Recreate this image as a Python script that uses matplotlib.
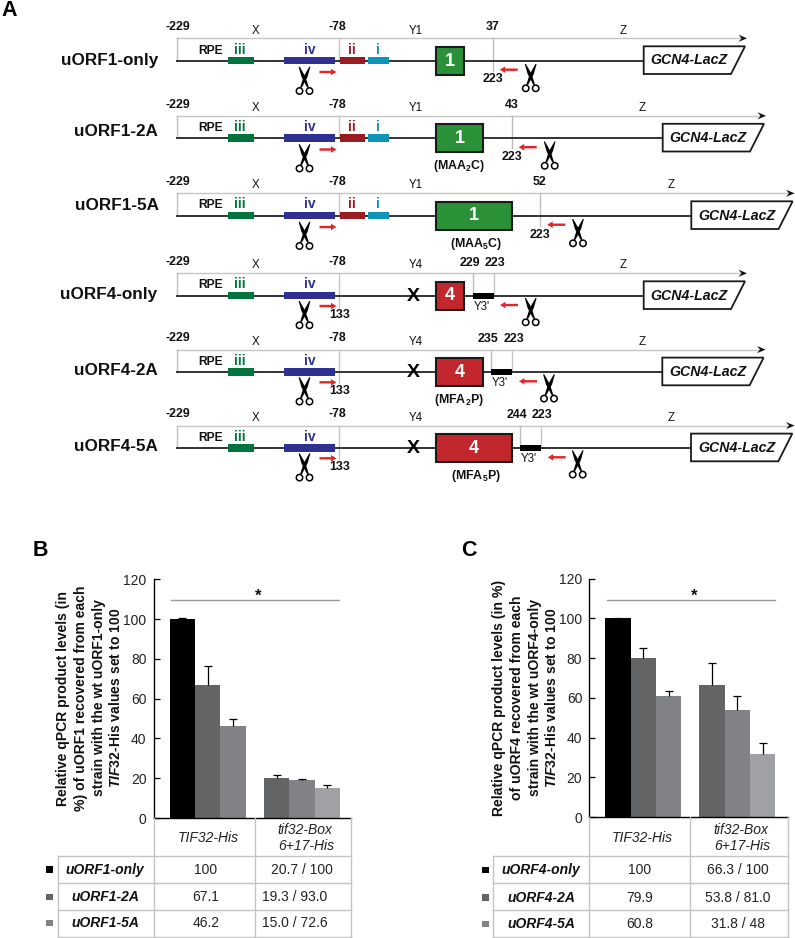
import matplotlib
matplotlib.use("Agg")
import matplotlib.pyplot as plt
from matplotlib.patches import Polygon, Rectangle, Circle

plt.rcParams['font.family'] = ['Liberation Sans', 'DejaVu Sans']
plt.rcParams['mathtext.fontset'] = 'custom'
plt.rcParams['mathtext.rm'] = 'Liberation Sans'
plt.rcParams['mathtext.it'] = 'Liberation Sans:italic'
plt.rcParams['mathtext.bf'] = 'Liberation Sans:bold'
plt.rcParams['mathtext.bfit'] = 'Liberation Sans:italic:bold'
plt.rcParams['mathtext.default'] = 'regular'

W, H = 795, 938

# --- DATA ---
row_names = ['uORF1-only', 'uORF1-2A', 'uORF1-5A', 'uORF4-only', 'uORF4-2A', 'uORF4-5A']
box_labels = ['1', '1', '1', '4', '4', '4']
box_notes = ['', r'(MAA$_{\mathbf{2}}$C)', r'(MAA$_{\mathbf{5}}$C)',
             '', r'(MFA$_{\mathbf{2}}$P)', r'(MFA$_{\mathbf{5}}$P)']
end_labels = ['37', '43', '52', '229', '235', '244']

b_bars_wt = [100, 67.1, 46.2]
b_errs_wt = [0.4, 9.3, 3.8]
b_bars_mut = [20.0, 19.3, 15.0]
b_errs_mut = [1.6, 0.3, 1.5]
b_rows = ['uORF1-only', 'uORF1-2A', 'uORF1-5A']
b_col1 = ['100', '67.1', '46.2']
b_col2 = ['20.7 / 100', '19.3 / 93.0', '15.0 / 72.6']
b_ylabel = ['Relative qPCR product levels (in',
            '%) of uORF1 recovered from each',
            'strain with the wt uORF1-only',
            r'$\mathbfit{TIF}$32-His values set to 100']

c_bars_wt = [100, 79.9, 60.8]
c_errs_wt = [0.4, 5.2, 2.8]
c_bars_mut = [66.3, 53.8, 31.8]
c_errs_mut = [11.4, 7.0, 5.3]
c_rows = ['uORF4-only', 'uORF4-2A', 'uORF4-5A']
c_col1 = ['100', '79.9', '60.8']
c_col2 = ['66.3 / 100', '53.8 / 81.0', '31.8 / 48']
c_ylabel = ['Relative qPCR product levels (in %)',
            'of uORF4 recovered from each',
            'strain with the wt uORF4-only',
            r'$\mathbfit{TIF}$32-His values set to 100']

yticks = [0, 20, 40, 60, 80, 100, 120]
wt_colors = ['#000000', '#636466', '#808285']
mut_colors = ['#636466', '#808285', '#a0a1a4']
legend_colors = ['#000000', '#636466', '#808285']

# --- LAYOUT OF PANEL A (pixels) ---
line_y = [61, 138.5, 216, 296, 372.3, 448.3]
name_y = [60, 132, 205, 295, 370.7, 446.7]
name_right = [158, 158, 159, 157, 158, 158]
box_right = [464.3, 483.3, 511.7, 464.3, 483.3, 511.7]
gcn_left = [643.7, 662.7, 691.3, 643.7, 662.3, 691.0]
arrow_end = [747, 766, 794.5, 747, 765.5, 794.5]
z_x = [623, 642, 671, 623, 642, 671]
end_x = [493, 511.7, 540, 473, 491.3, 520.3]
bar_end_x = [None, None, None, 493.7, 512, 541]
back_arrow_x = [517.7, 536.7, 565.2, 518, 537, 565.7]
scissors_x = [530.7, 549.7, 578, 530.7, 549, 577.7]
note_x = [0, 459.3, 476, 0, 459, 475.7]

GREEN = '#2a9139'
RED = '#c1272d'

fig = plt.figure(figsize=(W / 100, H / 100), dpi=100)
ov = fig.add_axes([0, 0, 1, 1], zorder=3)
ov.set_xlim(0, W)
ov.set_ylim(H, 0)
ov.axis('off')
ov.patch.set_alpha(0)


def put(x, y, s, size=8.9, weight='bold', style='normal', color='#111111', ha='center', **kw):
    ov.text(x, y, s, fontsize=size, fontweight=weight, fontstyle=style, color=color,
            ha=ha, va='center', **kw)


def red_arrow(x0, x1, y):
    ov.arrow(x0, y, x1 - x0, 0, width=2.4, head_width=6.5, head_length=5.5,
             length_includes_head=True, color='#e3242b', lw=0, zorder=4)


def scissors(cx, top):
    # two crossing blades and the finger rings
    for s in (-1, 1):
        blade = [(5.9, 0), (3.1, 10), (-2.6, 20.8), (-4.4, 20.8), (-0.9, 10), (4.8, 0)]
        ov.add_patch(Polygon([(cx + s * bx, top + by) for bx, by in blade],
                             closed=True, fc='black', ec='none', zorder=4))
        ov.add_patch(Circle((cx + s * 5.0, top + 24.3), 3.2, fc='white', ec='black', lw=1.1, zorder=4))


def draw_row(i):
    y = line_y[i]
    top = y - 22.7
    orf4 = i >= 3

    # primer span, gray
    ov.plot([176.5, arrow_end[i] - 4], [top, top], color='#c6c6c6', lw=1, zorder=1)
    ov.plot([176.5, 176.5], [top, y], color='#bdbdbd', lw=1, zorder=1)
    ov.plot([339, 339], [top, y + (11 if orf4 else 0)], color='#c6c6c6', lw=1, zorder=1)
    xe = arrow_end[i]
    ov.add_patch(Polygon([(xe, top), (xe - 8.5, top - 3.6), (xe - 5.5, top), (xe - 8.5, top + 3.6)],
                         closed=True, fc='#111111', ec='none', zorder=3))

    # main line
    ov.plot([176.5, gcn_left[i]], [y, y], color='#333333', lw=1.4, zorder=2)

    # top labels
    put(178, y - 34, '-229')
    put(337.5, y - 34, '-78')
    put(255.5, y - 30.5, 'X', size=8.3, weight='normal')
    put(415.5, y - 30.5, 'Y4' if orf4 else 'Y1', size=8.3, weight='normal')
    put(z_x[i], y - 30.5, 'Z', size=8.3, weight='normal')
    put(name_right[i], name_y[i], row_names[i], size=12.3, ha='right')

    # elements
    put(211, y - 10.5, 'RPE', size=8.7)
    ov.add_patch(Rectangle((228, y - 4), 25.5, 7.5, fc='#02733c', ec='none', zorder=3))
    put(240, y - 11.5, 'iii', size=10, color='#02733c')
    ov.add_patch(Rectangle((283.5, y - 4), 51.5, 7.5, fc='#2e3192', ec='none', zorder=3))
    put(310, y - 11.5, 'iv', size=10, color='#2e3192')
    if not orf4:
        ov.add_patch(Rectangle((339.5, y - 4), 25, 7.5, fc='#9b1c20', ec='none', zorder=3))
        put(352, y - 11.5, 'ii', size=10, color='#9b1c20')
        ov.add_patch(Rectangle((368, y - 4), 21, 7.5, fc='#0d94b8', ec='none', zorder=3))
        put(378, y - 11.5, 'i', size=10, color='#0d94b8')

    # forward primer + cut
    red_arrow(319.5, 336.5, y + 11 if not orf4 else y + 10)
    scissors(304.5, y + (5.7 if not orf4 else 5))
    if orf4:
        put(339.5, y + 19, '133')

    # uORF box
    ov.add_patch(Rectangle((435.7, y - 14), box_right[i] - 435.7, 27.7, fc=RED if orf4 else GREEN,
                           ec='#1a1a1a', lw=1.5, zorder=3))
    put((435.7 + box_right[i]) / 2, y, box_labels[i], size=13, color='white', zorder=5)
    if box_notes[i]:
        put(note_x[i], y + 27.5, box_notes[i], size=8.9)

    # right side primer end + reverse primer
    if orf4:
        put(413.3, y + 0.5, 'X', size=14, color='black', zorder=5)
        x0, x1 = end_x[i], bar_end_x[i]
        ov.plot([x0, x0], [top, y], color='#bdbdbd', lw=1, zorder=1)
        ov.plot([x1, x1], [top, y], color='#c6c6c6', lw=1, zorder=1)
        ov.add_patch(Rectangle((x0, y - 3), x1 - x0, 5.6, fc='black', ec='none', zorder=3))
        put(x0 - 3, y - 33.3, end_labels[i])
        put(x1 + 1.5, y - 33.3, '223')
        put((x0 + x1) / 2 - 1.5, y + 11, "Y3'", size=8.3, weight='normal')
        red_arrow(back_arrow_x[i], back_arrow_x[i] - 18, y + 9)
        scissors(scissors_x[i], y + 2)
    else:
        x0 = end_x[i]
        ov.plot([x0, x0], [top, y + 10], color='#bdbdbd', lw=1, zorder=1)
        put(x0, y - 34, end_labels[i])
        put(x0, y + 18.5, '223')
        red_arrow(back_arrow_x[i], back_arrow_x[i] - 18, y + 8.7)
        scissors(scissors_x[i], y + 3)

    # reporter
    gl = gcn_left[i]
    ov.add_patch(Polygon([(gl, y - 14.7), (gl + 101.3, y - 14.7), (gl + 87.3, y + 13), (gl, y + 13)],
                         closed=True, fc='white', ec='#1a1a1a', lw=1.3, zorder=3))
    put(gl + 45.5, y - 0.5, 'GCN4-LacZ', size=10.2, style='italic', color='#111111', zorder=5)


for i in range(6):
    draw_row(i)

put(1, 10, 'A', size=15.5, ha='left', color='black')
put(33, 550, 'B', size=15.5, ha='left', color='black')
put(461, 550, 'C', size=15.5, ha='left', color='black')


def draw_panel(box, wt, wt_err, mut, mut_err, sig, star_x, ylabel, lab_x, lab_y,
               tab, rows, col1, col2, pos):
    left, right, y0, y120, bar_w = box
    ax = fig.add_axes([left / W, 1 - y0 / H, (right - left) / W, (y0 - y120) / H], zorder=2)
    gap = 3.72
    xs1 = [0, 1, 2]
    xs2 = [gap, gap + 1, gap + 2]
    for xs, vals, errs, cols in ((xs1, wt, wt_err, wt_colors), (xs2, mut, mut_err, mut_colors)):
        ax.bar(xs, vals, width=1.0, color=cols, linewidth=0)
        eb = ax.errorbar(xs, vals, yerr=[[0] * 3, errs], fmt='none', ecolor='black', elinewidth=0.9,
                         capsize=2.6, capthick=0.9)
        eb[1][0].set_visible(False)  # only the upper cap
    x_first = pos['first']
    ax.set_xlim((left - x_first) / bar_w, (right - x_first) / bar_w)
    ax.set_ylim(0, 120)
    ax.set_yticks(yticks)
    ax.set_xticks([])
    ax.tick_params(axis='y', direction='in', length=4, width=0.9, labelsize=10,
                   labelcolor='#222222', pad=5)
    for s in ('top', 'right'):
        ax.spines[s].set_visible(False)
    for s in ('left', 'bottom'):
        ax.spines[s].set_linewidth(1.0)
    ax.patch.set_alpha(0)
    ax.plot(sig, [109.4, 109.4], color='#9a9a9a', lw=1, clip_on=False)
    ax.text(star_x, 111.4, '*', fontsize=12, fontweight='bold', ha='center', va='center', color='#111111')

    for j, line in enumerate(ylabel):
        put(lab_x[j], lab_y, line, size=10.1, weight='bold', rotation=90, rotation_mode='anchor')

    # table under the bars
    t_left, t_mid, t_split, t_right = tab['x']
    t_y = tab['y']
    g = '#c4c4c4'
    for yy in t_y[1:]:
        ov.plot([t_left, t_right], [yy, yy], color=g, lw=1)
    ov.plot([t_left, t_left], [t_y[1], t_y[4]], color=g, lw=1)
    for xx in (t_mid, t_split, t_right):
        ov.plot([xx, xx], [t_y[0], t_y[4]], color=g, lw=1)

    put(pos['head1'], 838, 'TIF32-His', size=10, weight='normal', style='italic', color='#222222')
    put(pos['head2'], 829.5, 'tif32-Box', size=10, weight='normal', style='italic', color='#222222')
    put(pos['head2'] + 1, 846.3, '6+17-His', size=10, weight='normal', style='italic', color='#222222')
    for j in range(3):
        yy = pos['rows_y'][j]
        ov.add_patch(Rectangle((pos['sq'], yy - 3.3), 7, 6.6, fc=legend_colors[j], ec='none'))
        put(pos['name'], yy, rows[j], size=10, style='italic', color='#111111')
        put(pos['col1'], yy, col1[j], size=10, weight='normal', color='#222222')
        put(pos['col2'][j], yy, col2[j], size=10, weight='normal', color='#222222')


draw_panel((153.5, 351, 818, 579.3, 25.4), b_bars_wt, b_errs_wt, b_bars_mut, b_errs_mut,
           [-0.44, 6.17], 2.99, b_ylabel, [63.5, 80.5, 98.5, 115], 698,
           {'x': (57.5, 153.5, 254.5, 351), 'y': (818, 856, 883, 910, 936.7)},
           b_rows, b_col1, b_col2,
           {'first': 182.2, 'head1': 208, 'head2': 305, 'rows_y': (869.7, 897, 923), 'sq': 45.5,
            'name': 105, 'col1': 205.7, 'col2': (301.7, 295, 295)})

draw_panel((589.3, 787.7, 817, 578.7, 25.3), c_bars_wt, c_errs_wt, c_bars_mut, c_errs_mut,
           [-0.42, 6.2], 3.0, c_ylabel, [499, 517, 534.5, 551.5], 698,
           {'x': (493.3, 589.3, 690.3, 787.7), 'y': (817, 856.3, 883.3, 910, 937)},
           c_rows, c_col1, c_col2,
           {'first': 618, 'head1': 642, 'head2': 741, 'rows_y': (870, 897.7, 924), 'sq': 481.5,
            'name': 541, 'col1': 640, 'col2': (738, 738, 738)})

fig.savefig('out.png', dpi=100)
